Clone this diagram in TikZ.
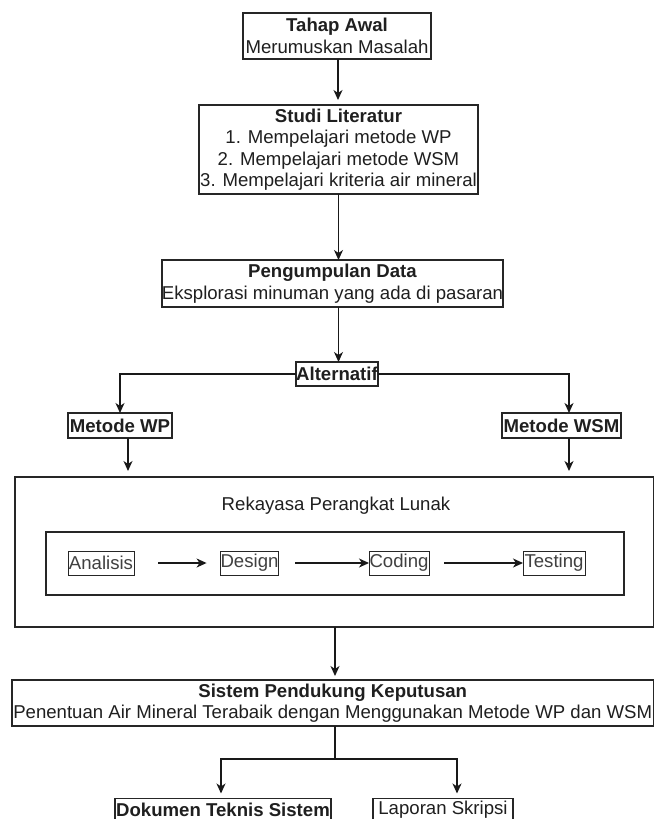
\documentclass[tikz,border=0pt]{standalone}
\usepackage{fontspec}
\setmainfont{Liberation Sans}
\usetikzlibrary{arrows.meta}
\begin{document}
\begin{tikzpicture}[x=1pt,y=-1pt,
  every node/.style={inner sep=0pt, outer sep=0pt, align=center, text=black!88,
    font=\fontsize{18.6}{21.5}\selectfont},
  box/.style={draw=black!85, line width=1.3pt},
  smallbox/.style={draw=black!85, line width=1pt, text=black!75},
  arr/.style={draw=black!90, line width=1.3pt, -{Stealth[length=10pt,width=9pt,inset=3pt]}},
  link/.style={draw=black!90, line width=1.3pt}]
\useasboundingbox (0,0) rectangle (654,819);
\fill[white] (0,0) rectangle (654,819);

% main stages
\node[box, minimum width=188, minimum height=46] (awal) at (337,36)
  {\textbf{Tahap Awal}\\Merumuskan Masalah};
\node[box, minimum width=279, minimum height=89] (studi) at (338.5,149.5)
  {\textbf{Studi Literatur}\\1. Mempelajari metode WP\\2. Mempelajari metode WSM\\3. Mempelajari kriteria air mineral};
\node[box, minimum width=337, minimum height=47] (data) at (332.5,283.5)
  {\textbf{Pengumpulan Data}\\Eksplorasi minuman yang ada di pasaran};
\node[box, minimum width=82, minimum height=24] (alt) at (337,374) {\textbf{Alternatif}};
\node[box, minimum width=104, minimum height=25] (wp) at (120,425.5) {\textbf{Metode WP}};
\node[box, minimum width=119, minimum height=25] (wsm) at (561.5,425.5) {\textbf{Metode WSM}};

% software engineering block
\node[box, minimum width=638.5, minimum height=150] (rpl) at (334.25,552) {};
\node (rpltitle) at (336,506) {Rekayasa Perangkat Lunak};
\node[box, line width=1.2pt, minimum width=578, minimum height=63] (inner) at (335,563.5) {};
\node[smallbox, minimum width=66, minimum height=24] (analisis) at (101,563) {Analisis};
\node[smallbox, minimum width=57, minimum height=24] (design) at (249.5,563) {Design};
\node[smallbox, minimum width=60, minimum height=24] (coding) at (399,563) {Coding};
\node[smallbox, minimum width=62, minimum height=24] (testing) at (554,563) {Testing};

% result
\node[box, minimum width=641.5, minimum height=46] (spk) at (332.75,703)
  {\textbf{Sistem Pendukung Keputusan}\\Penentuan Air Mineral Terabaik dengan Menggunakan Metode WP dan WSM};
\node[box, minimum width=216, minimum height=22] (dok) at (223,809.5) {\textbf{Dokumen Teknis Sistem}};
\node[box, minimum width=140, minimum height=22] (lap) at (443,809.5) {Laporan Skripsi};
\coordinate (split) at (335,759);

% connectors
\draw[arr, shorten >=5pt] ([xshift=1pt]awal.south) -- ([xshift=1pt]awal.south |- studi.north);
\draw[arr] (studi.south) -- (studi.south |- data.north);
\draw[arr] ([xshift=1.5pt]alt.north |- data.south) -- ([xshift=1.5pt]alt.north);
\draw[arr] (alt.west) -| (wp.north);
\draw[arr] (alt.east) -| ([xshift=7.5pt]wsm.north);
\draw[arr, shorten >=6pt] ([xshift=8pt]wp.south) -- ([xshift=8pt]wp.south |- rpl.north);
\draw[arr, shorten >=6pt] ([xshift=7.5pt]wsm.south) -- ([xshift=7.5pt]wsm.south |- rpl.north);
\draw[arr, shorten <=24pt, shorten >=14pt] (analisis.east) -- (design.west);
\draw[arr, shorten <=17pt] (design.east) -- (coding.west);
\draw[arr, shorten <=15pt] (coding.east) -- (testing.west);
\draw[arr, shorten >=4pt] ([xshift=0.75pt]rpl.south) -- ([xshift=0.75pt]rpl.south |- spk.north);
\draw[link] (spk.south -| split) -- (split);
\draw[arr, shorten >=5pt] (split) -| ([xshift=-2pt]dok.north);
\draw[arr, shorten >=5pt] (split) -| ([xshift=14pt]lap.north);
\end{tikzpicture}
\end{document}
